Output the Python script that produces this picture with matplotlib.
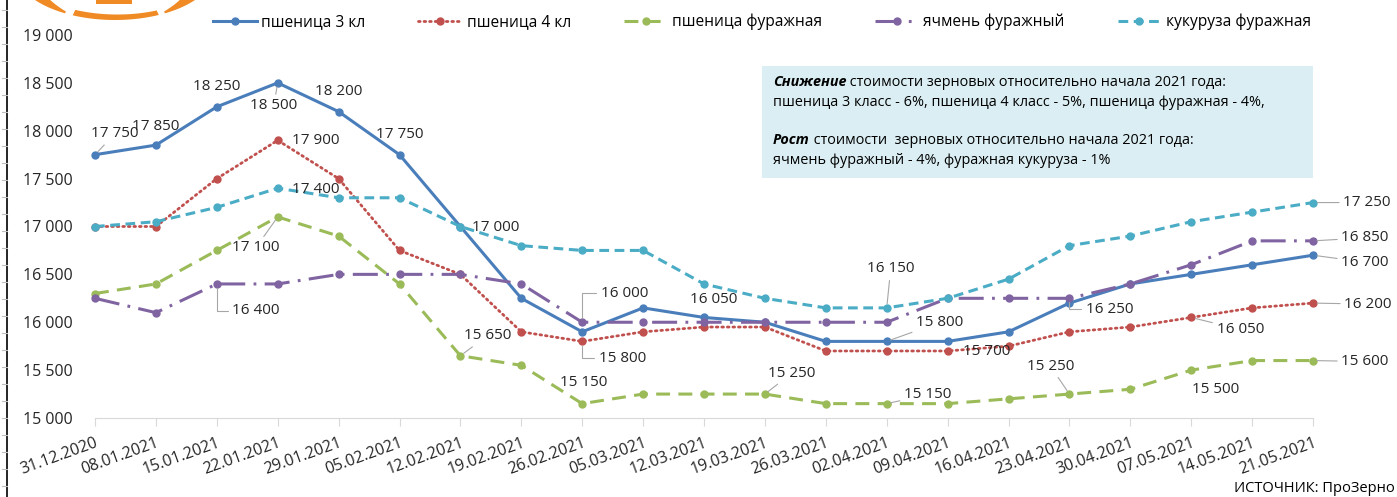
import matplotlib
matplotlib.use('Agg')
import matplotlib.pyplot as plt
import numpy as np
from matplotlib.patches import Rectangle

plt.rcParams['font.family'] = ['Open Sans', 'DejaVu Sans']
plt.rcParams['lines.scale_dashes'] = False

# data
dates = ['31.12.2020', '08.01.2021', '15.01.2021', '22.01.2021', '29.01.2021',
         '05.02.2021', '12.02.2021', '19.02.2021', '26.02.2021', '05.03.2021',
         '12.03.2021', '19.03.2021', '26.03.2021', '02.04.2021', '09.04.2021',
         '16.04.2021', '23.04.2021', '30.04.2021', '07.05.2021', '14.05.2021',
         '21.05.2021']
wheat3 = [17750, 17850, 18250, 18500, 18200, 17750, 17000, 16250, 15900, 16150, 16050,
          16000, 15800, 15800, 15800, 15900, 16200, 16400, 16500, 16600, 16700]
wheat4 = [17000, 17000, 17500, 17900, 17500, 16750, 16500, 15900, 15800, 15900, 15950,
          15950, 15700, 15700, 15700, 15750, 15900, 15950, 16050, 16150, 16200]
feed_wheat = [16300, 16400, 16750, 17100, 16900, 16400, 15650, 15550, 15150, 15250, 15250,
              15250, 15150, 15150, 15150, 15200, 15250, 15300, 15500, 15600, 15600]
barley = [16250, 16100, 16400, 16400, 16500, 16500, 16500, 16400, 16000, 16000, 16000,
          16000, 16000, 16000, 16250, 16250, 16250, 16400, 16600, 16850, 16850]
corn = [17000, 17050, 17200, 17400, 17300, 17300, 17000, 16800, 16750, 16750, 16400,
        16250, 16150, 16150, 16250, 16450, 16800, 16900, 17050, 17150, 17250]
names = ['пшеница 3 кл', 'пшеница 4 кл', 'пшеница фуражная', 'ячмень фуражный', 'кукуруза фуражная']
yticks = [15000, 15500, 16000, 16500, 17000, 17500, 18000, 18500, 19000]

note_bold = ['Снижение', 'Рост']
note_rest = [' стоимости зерновых относительно начала 2021 года:',
             ' стоимости  зерновых относительно начала 2021 года:']
note_line2 = ['пшеница 3 класс - 6%, пшеница 4 класс - 5%, пшеница фуражная - 4%,',
              'ячмень фуражный - 4%, фуражная кукуруза - 1%']
source = 'ИСТОЧНИК: ПроЗерно'

# styles
all_series = [wheat3, wheat4, feed_wheat, barley, corn]
colors = ['#4A7EBB', '#C0504D', '#9BBB59', '#8064A2', '#4BACC6']
styles = ['-', (0, (1.2, 2.8)), (0, (10, 6)), (0, (18, 6, 2, 6)), (0, (7, 4))]
widths = [2.2, 2.0, 2.2, 2.2, 2.2]

# data labels: series, point, dx, dy (pixels), leader type
label_specs = [
    (0, 0, 20, 21, 'line'), (0, 1, 0, 19, None), (0, 2, 0, 20, None),
    (0, 3, -4, -23, 'line'), (0, 4, 0, 20, None), (0, 5, 0, 20, None),
    (1, 3, 38, 0, None), (4, 3, 38, -1, None), (2, 3, -22, -31, 'line'),
    (3, 2, 39, -27, 'elbow'), (4, 6, 35, -1, None), (2, 6, 27, 20, 'line'),
    (3, 8, 42, 29, 'elbow'), (1, 8, 40, -17, 'elbow'), (2, 8, 1, 21, None),
    (0, 10, 10, 18, None), (2, 11, 27, 21, 'line'), (4, 13, 4, 39, 'line'),
    (0, 13, 53, 19, 'line'), (1, 14, 39, -1, None), (2, 13, 41, 9, 'line'),
    (2, 16, -19, 28, 'line'), (3, 16, 40, -11, 'elbow'), (1, 18, 49, -12, 'line'),
    (2, 18, 24, -19, None),
    (4, 20, 54, 0, 'line'), (3, 20, 52, 3, 'line'), (0, 20, 52, -7, 'line'),
    (1, 20, 55, -1, 'line'), (2, 20, 52, -1, 'line'),
]

W, H = 1397, 497
fig = plt.figure(figsize=(W / 100, H / 100), dpi=100)
ax = fig.add_axes([95 / W, 1 - 418 / H, (1313 - 95) / W, (418 - 35) / H])

x = list(range(len(dates)))
handles = []
for vals, name, c, ls, lw in zip(all_series, names, colors, styles, widths):
    h, = ax.plot(x, vals, color=c, ls=ls, lw=lw, marker='o', ms=5,
                 label=name, clip_on=False, dash_capstyle='round' if ls == styles[1] else 'butt')
    handles.append(h)


def fmt(v):
    return f'{v:,}'.replace(',', ' ')


for s, i, dx, dy, kind in label_specs:
    v = all_series[s][i]
    kw = dict(xy=(i, v), xytext=(dx, dy), textcoords='offset pixels',
              ha='center', va='center', fontsize=11, color='#262626', zorder=5)
    if kind == 'line':
        kw['arrowprops'] = dict(arrowstyle='-', color='#A6A6A6', lw=0.8, shrinkA=1, shrinkB=3)
    elif kind == 'elbow':
        kw['arrowprops'] = dict(arrowstyle='-', color='#A6A6A6', lw=0.8, shrinkA=1, shrinkB=3,
                                connectionstyle='angle,angleA=0,angleB=90,rad=0')
    ax.annotate(fmt(v), **kw)

ax.set_xlim(0, len(dates) - 1)
ax.set_ylim(15000, 19000)
ax.set_yticks(yticks)
ax.set_yticklabels([fmt(v) for v in yticks], fontsize=11.5, color='#262626')
ax.set_xticks(x)
ax.set_xticklabels(dates, rotation=20, ha='right', va='top', rotation_mode='anchor',
                   fontsize=11.5, color='#262626')
ax.tick_params(axis='y', length=0, pad=16)
ax.tick_params(axis='x', length=6, color='#D9D9D9', pad=6)
for side in ['left', 'right', 'top']:
    ax.spines[side].set_visible(False)
ax.spines['bottom'].set_color('#D9D9D9')
ax.patch.set_alpha(0)

ax.legend(handles=handles, loc='center', bbox_to_anchor=(762 / W, 1 - 22 / H),
          bbox_transform=fig.transFigure, ncol=5, frameon=False, fontsize=11.2,
          handlelength=2.8, handletextpad=0.3, columnspacing=3.4, numpoints=1)

# overlay in pixel coords for box, logo and frame
ov = fig.add_axes([0, 0, 1, 1], zorder=3)
ov.set_xlim(0, W)
ov.set_ylim(H, 0)
ov.axis('off')
ov.patch.set_alpha(0)

ov.add_patch(Rectangle((762, 66), 551, 112, facecolor='#DAEEF3', edgecolor='none'))
fig.canvas.draw()
renderer = fig.canvas.get_renderer()
for k, ytop in enumerate([82, 140]):
    t = ov.text(773, ytop, note_bold[k], fontsize=10.4, fontweight='bold', fontstyle='italic',
                va='center', ha='left', color='black')
    bb = t.get_window_extent(renderer)
    ov.text(773 + bb.width, ytop, note_rest[k], fontsize=10.4, va='center', ha='left', color='black')
    ov.text(773, ytop + 20, note_line2[k], fontsize=10.4, va='center', ha='left', color='black')

ov.text(1395, 488, source, fontsize=10.5, ha='right', va='center', color='black')

# left frame line with ruler ticks
ov.plot([7, 7], [0, H], color='black', lw=1.2)
for yy in range(10, H, 17):
    ov.plot([2, 7], [yy, yy], color='#BFBFBF', lw=0.8)

# cut-off logo: three orange swirl pieces of an ellipse
for t0, t1, w0, w1 in [(145, 120, 12, 2), (115, 64, 6, 5), (60, 35, 2, 12)]:
    tt = np.radians(np.linspace(t0, t1, 40))
    ww = np.linspace(w0, w1, 40)
    xo = 115 + 100 * np.cos(tt)
    yo = -30 + 50 * np.sin(tt)
    xi = 115 + (100 - ww) * np.cos(tt)
    yi = -30 + (50 - ww) * np.sin(tt)
    ov.fill(np.r_[xo, xi[::-1]], np.r_[yo, yi[::-1]], color='#F08A24', lw=0)
ov.add_patch(Rectangle((96, 0), 36, 4, facecolor='#F08A24', edgecolor='none'))

fig.savefig('out.png', dpi=100)
